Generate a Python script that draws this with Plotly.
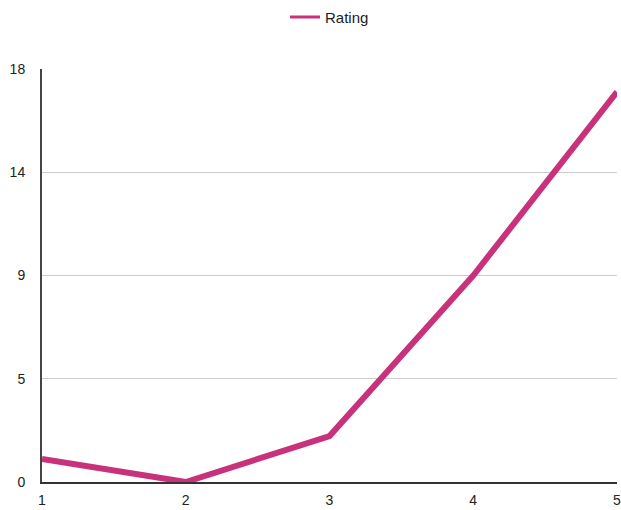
import plotly.graph_objects as go

categories = [1, 2, 3, 4, 5]
rating = [1, 0, 2, 9, 17]
y_tickvals = [0, 4.5, 9, 13.5, 18]
y_ticktext = ["0", "5", "9", "14", "18"]

fig = go.Figure()
fig.add_trace(go.Scatter(
    x=categories, y=rating, mode="lines", name="Rating",
    line=dict(color="#C8327B", width=6), showlegend=False,
))
# legend entry with a thinner swatch, as in the reference
fig.add_trace(go.Scatter(
    x=[None], y=[None], mode="lines", name="Rating",
    line=dict(color="#C8327B", width=3), showlegend=True, hoverinfo="skip",
))

fig.update_layout(
    width=621, height=510,
    margin=dict(l=42, r=4, t=69, b=28, autoexpand=False),
    paper_bgcolor="white", plot_bgcolor="white",
    font=dict(family="Liberation Sans, Arial, sans-serif", size=14, color="#222"),
    showlegend=True,
    legend=dict(orientation="h", x=0.5, xanchor="center", y=0.966, yanchor="middle",
                yref="container", font=dict(size=15), itemwidth=30),
    xaxis=dict(range=[1, 5], tickvals=categories, showgrid=False, zeroline=False,
               showline=True, linecolor="#333", linewidth=2, automargin=False,
               ticklabeloverflow="allow",
               ticks="outside", ticklen=4, tickcolor="rgba(0,0,0,0)"),
    yaxis=dict(range=[0, 18], tickvals=y_tickvals, ticktext=y_ticktext,
               showgrid=True, gridcolor="#cccccc", gridwidth=1, zeroline=False,
               showline=True, linecolor="#444", linewidth=2, automargin=False,
               ticks="outside", ticklen=12, tickcolor="rgba(0,0,0,0)"),
)

fig.write_html(
    "out.html",
    config={"displayModeBar": False},
    post_script="document.body.style.margin='0';document.body.style.overflow='hidden';",
)
